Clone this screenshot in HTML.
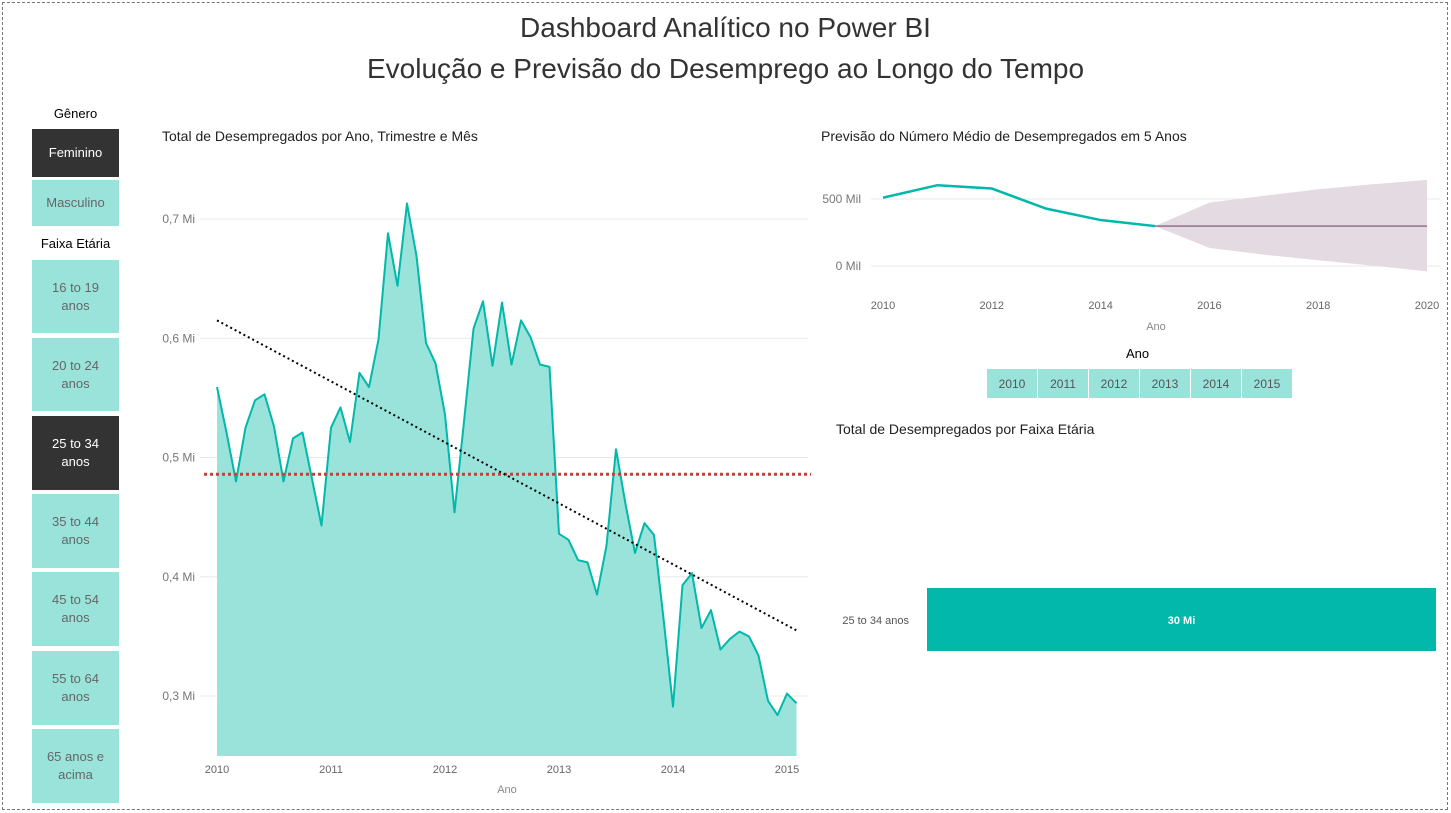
<!DOCTYPE html>
<html><head><meta charset="utf-8">
<style>
*{margin:0;padding:0;box-sizing:border-box}
body{width:1451px;height:813px;background:#fff;font-family:"Liberation Sans",sans-serif;position:relative;overflow:hidden}
.frame{position:absolute;left:2px;top:2px;width:1446px;height:808px;border:1px dashed #777}
.t{position:absolute;color:#333;white-space:nowrap}
.btn{position:absolute;left:32px;width:87px;background:#99e3db;color:#666;font-size:13px;text-align:center;display:flex;align-items:center;justify-content:center;line-height:18px}
.btn.sel{background:#333;color:#fff}
.yb{position:absolute;top:369px;width:50px;height:29px;background:#99e3db;color:#555;font-size:12px;display:flex;align-items:center;justify-content:center}
</style></head><body>
<div class="frame"></div>
<div class="t" style="left:0;width:1451px;text-align:center;top:10px;font-size:28px;line-height:36px;color:#333">Dashboard Analítico no Power BI</div>
<div class="t" style="left:0;width:1451px;text-align:center;top:51px;font-size:28px;line-height:36px;color:#333">Evolução e Previsão do Desemprego ao Longo do Tempo</div>

<div class="t" style="left:32px;width:87px;text-align:center;top:106px;font-size:13px;color:#000">Gênero</div>
<div class="btn sel" style="top:129px;height:48px">Feminino</div>
<div class="btn" style="top:180px;height:46px">Masculino</div>
<div class="t" style="left:32px;width:87px;text-align:center;top:236px;font-size:13px;color:#000">Faixa Etária</div>
<div class="btn" style="top:260px;height:73px">16 to 19<br>anos</div>
<div class="btn" style="top:338px;height:73px">20 to 24<br>anos</div>
<div class="btn sel" style="top:416px;height:74px">25 to 34<br>anos</div>
<div class="btn" style="top:494px;height:74px">35 to 44<br>anos</div>
<div class="btn" style="top:572px;height:74px">45 to 54<br>anos</div>
<div class="btn" style="top:651px;height:74px">55 to 64<br>anos</div>
<div class="btn" style="top:729px;height:74px">65 anos e<br>acima</div>

<div class="t" style="left:162px;top:128px;font-size:14px;color:#222">Total de Desempregados por Ano, Trimestre e Mês</div>
<svg id="main" style="position:absolute;left:0;top:0" width="820" height="813"></svg>

<div class="t" style="left:821px;top:128px;font-size:14px;color:#222">Previsão do Número Médio de Desempregados em 5 Anos</div>
<svg id="fc" style="position:absolute;left:0;top:0" width="1451" height="813"></svg>

<div class="t" style="left:1126px;top:346px;font-size:13px;color:#000">Ano</div>
<div class="yb" style="left:987px">2010</div>
<div class="yb" style="left:1038px">2011</div>
<div class="yb" style="left:1089px">2012</div>
<div class="yb" style="left:1140px">2013</div>
<div class="yb" style="left:1191px">2014</div>
<div class="yb" style="left:1242px">2015</div>

<div class="t" style="left:836px;top:421px;font-size:14px;color:#222">Total de Desempregados por Faixa Etária</div>
<svg id="bar" style="position:absolute;left:0;top:0" width="1451" height="813"></svg>

<script>
const NS="http://www.w3.org/2000/svg";
function mk(p,tag,a){const e=document.createElementNS(NS,tag);for(const k in a)e.setAttribute(k,a[k]);p.appendChild(e);return e;}

// ---- main chart data ----
const monthlyValues=[0.559,0.521,0.480,0.525,0.548,0.553,0.526,0.480,0.516,0.521,0.482,0.443,0.525,0.542,0.513,0.571,0.559,0.599,0.688,0.644,0.713,0.669,0.596,0.579,0.536,0.454,0.530,0.608,0.631,0.577,0.630,0.578,0.615,0.601,0.578,0.576,0.436,0.431,0.414,0.412,0.385,0.426,0.507,0.461,0.420,0.445,0.435,0.365,0.291,0.393,0.403,0.357,0.372,0.339,0.348,0.354,0.350,0.334,0.296,0.284,0.302,0.294];
const yTicks=[0.3,0.4,0.5,0.6,0.7];
const yTickLabels=["0,3 Mi","0,4 Mi","0,5 Mi","0,6 Mi","0,7 Mi"];
const xYears=[2010,2011,2012,2013,2014,2015];
const averageValue=0.486;
const trendStart=0.615, trendEnd=0.355;

const main=document.getElementById('main');
const mx=m=>217+m*(570/60);      // months since Jan 2010
const my=v=>696-(v-0.3)*1192.5;
const base=756;
yTicks.forEach((t,i)=>{
  const g=mk(main,'line',{x1:200,x2:808,y1:my(t),y2:my(t),stroke:'#e8e8e8','stroke-width':1});
  
  
  const l=mk(main,'text',{x:195,y:my(t)+4,'text-anchor':'end','font-size':12,fill:'#777','font-family':'Liberation Sans'});
  l.textContent=yTickLabels[i];
  
  
});
xYears.forEach(y=>{
  const l=mk(main,'text',{x:mx((y-2010)*12),y:773,'text-anchor':'middle','font-size':11,fill:'#666','font-family':'Liberation Sans'});
  l.textContent=y;
  
  
});
const xt=mk(main,'text',{x:507,y:793,'text-anchor':'middle','font-size':11,fill:'#888','font-family':'Liberation Sans'});
xt.textContent='Ano';


let pts=monthlyValues.map((v,i)=>mx(i).toFixed(1)+','+my(v).toFixed(1));
const area=mk(main,'polygon',{points:mx(0)+','+base+' '+pts.join(' ')+' '+mx(monthlyValues.length-1)+','+base,fill:'#99e3db'});


const line=mk(main,'polyline',{points:pts.join(' '),fill:'none',stroke:'#01b8aa','stroke-width':2,'stroke-linejoin':'round'});


const avg=mk(main,'line',{x1:204,x2:811,y1:my(averageValue),y2:my(averageValue),stroke:'#c83d3d','stroke-width':3,'stroke-dasharray':'3 3'});


const tr=mk(main,'line',{x1:mx(0),x2:mx(61),y1:my(trendStart),y2:my(trendEnd),stroke:'#000','stroke-width':2,'stroke-dasharray':'2 3'});



// ---- forecast data ----
const histYears=[2010,2011,2012,2013,2014,2015];
const histValues=[510,603,578,428,343,298];
const fcYears=[2015,2016,2017,2018,2019,2020];
const fcValues=[298,298,298,298,298,298];
const fcUpper=[298,473,523,573,610,643];
const fcLower=[298,135,85,43,3,-40];
const fcTicks=[0,500];
const fcTickLabels=["0 Mil","500 Mil"];
const fcXTicks=[2010,2012,2014,2016,2018,2020];

const fc=document.getElementById('fc');
const fx=y=>883+(y-2010)*54.4;
const fy=v=>266-v*0.134;
fcTicks.forEach((t,i)=>{
  const g=mk(fc,'line',{x1:871,x2:1440,y1:fy(t),y2:fy(t),stroke:'#e8e8e8'});
  
  
  const l=mk(fc,'text',{x:861,y:fy(t)+4,'text-anchor':'end','font-size':12,fill:'#777','font-family':'Liberation Sans'});
  l.textContent=fcTickLabels[i];
  
  
});
fcXTicks.forEach(y=>{
  const l=mk(fc,'text',{x:fx(y),y:309,'text-anchor':'middle','font-size':11,fill:'#666','font-family':'Liberation Sans'});
  l.textContent=y;
  
  
});
const fxt=mk(fc,'text',{x:1156,y:330,'text-anchor':'middle','font-size':11,fill:'#888','font-family':'Liberation Sans'});
fxt.textContent='Ano';


const band=fcYears.map((y,i)=>fx(y)+','+fy(fcUpper[i])).concat(fcYears.slice().reverse().map((y,j)=>fx(y)+','+fy(fcLower[fcYears.length-1-j])));
const bd=mk(fc,'polygon',{points:band.join(' '),fill:'#e3dae2'});


const fl=mk(fc,'polyline',{points:fcYears.map((y,i)=>fx(y)+','+fy(fcValues[i])).join(' '),fill:'none',stroke:'#7a4a70','stroke-width':1.2});


const hl=mk(fc,'polyline',{points:histYears.map((y,i)=>fx(y)+','+fy(histValues[i])).join(' '),fill:'none',stroke:'#01b8aa','stroke-width':2.5});



// ---- bar data ----
const barCategories=["25 to 34 anos"];
const barValues=[30];
const barLabels=["30 Mi"];
const bar=document.getElementById('bar');
const bx=v=>927+v*(509/30);
barCategories.forEach((c,i)=>{
  const r=mk(bar,'rect',{x:927,y:588,width:bx(barValues[i])-927,height:63,fill:'#01b8aa'});
  
  
  const l=mk(bar,'text',{x:909,y:624,'text-anchor':'end','font-size':11,fill:'#555','font-family':'Liberation Sans'});
  l.textContent=c;
  
  
  const v=mk(bar,'text',{x:(927+bx(barValues[i]))/2,y:624,'text-anchor':'middle','font-size':11,'font-weight':'bold',fill:'#fff','font-family':'Liberation Sans'});
  v.textContent=barLabels[i];
  
  
});
</script>
</body></html>
